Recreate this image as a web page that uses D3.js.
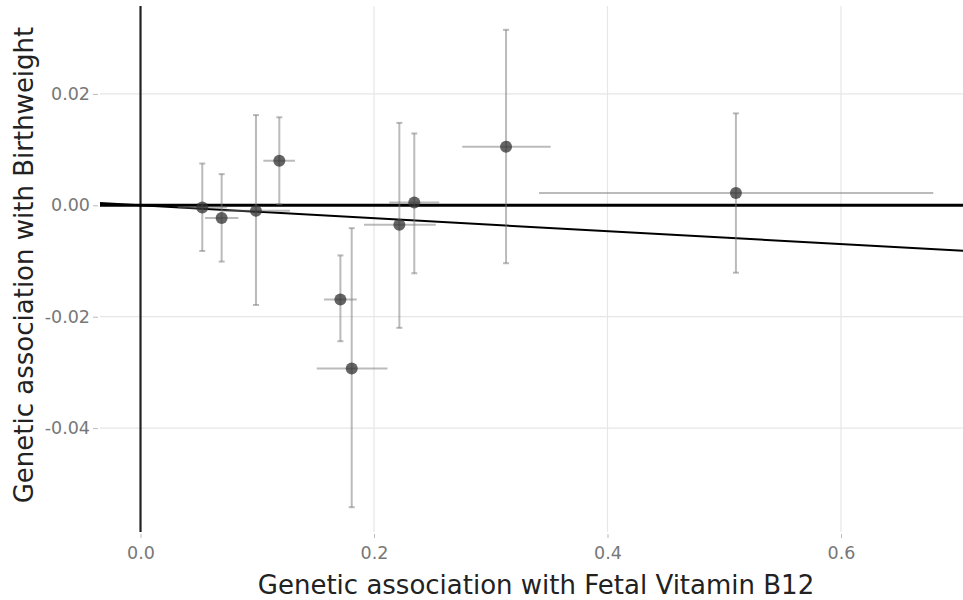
<!DOCTYPE html>
<html>
<head>
    <meta charset="utf-8">
    <title>MR scatter - fetal B12 vs birthweight</title>
    <script src="https://d3js.org/d3.v7.min.js"></script>
    <style>
        body { margin: 0; background: #fff; }
        text { font-family: 'DejaVu Sans', sans-serif; }
    </style>
</head>
<body>
    <svg id="chart">
        <g id="grid"></g>
        <g id="x"></g>
        <g id="y"></g>
        <g id="lines"></g>
        <g id="bars"></g>
        <g id="points"></g>
    </svg>

    <script>

        // SNP effects
        var snpX   = [0.0529, 0.0695, 0.0989, 0.1189, 0.1712, 0.1809, 0.2217, 0.2345, 0.3131, 0.510];
        var snpXLo = [0.032, 0.0553, 0.070, 0.1052, 0.1572, 0.151, 0.1914, 0.2131, 0.2756, 0.3413];
        var snpXHi = [0.074, 0.0838, 0.128, 0.1323, 0.1852, 0.2115, 0.2529, 0.2559, 0.3513, 0.679];
        var snpY   = [-0.0004, -0.0023, -0.0010, 0.0080, -0.0169, -0.0293, -0.0035, 0.0005, 0.0105, 0.0022];
        var snpYLo = [-0.0082, -0.0101, -0.0179, 0.0002, -0.0244, -0.0542, -0.0220, -0.0122, -0.0104, -0.0121];
        var snpYHi = [0.0075, 0.0056, 0.0162, 0.0158, -0.0090, -0.0041, 0.0148, 0.0129, 0.0315, 0.0165];

        var ivwSlope = -0.0116;

        var xTicks = [0, 0.2, 0.4, 0.6];
        var yTicks = [-0.04, -0.02, 0, 0.02];

        var width = 963;
        var height = 600;
        var margin = {top: 6, right: 0, bottom: 68, left: 100};

        var svg = d3.select("#chart")
                    .attr("width", width)
                    .attr("height", height);

        var x = d3.scaleLinear()
            .domain([-0.0347, 0.7045])
            .range([margin.left, width - margin.right]);

        var y = d3.scaleLinear()
            .domain([-0.05865, 0.03578])
            .range([height - margin.bottom, margin.top]);

        var data = snpX.map(function(d, i) {
            return {x: d, xlo: snpXLo[i], xhi: snpXHi[i], y: snpY[i], ylo: snpYLo[i], yhi: snpYHi[i]};
        });

        // grid
        var grid = svg.select("#grid");
        grid.selectAll(".vg").data(xTicks.filter(function(d) { return d !== 0; }))
            .enter().append("line")
            .attr("x1", function(d) { return x(d); })
            .attr("x2", function(d) { return x(d); })
            .attr("y1", y.range()[1])
            .attr("y2", y.range()[0])
            .attr("stroke", "#e6e6e6").attr("stroke-width", 1.2);
        grid.selectAll(".hg").data(yTicks)
            .enter().append("line")
            .attr("x1", x.range()[0])
            .attr("x2", x.range()[1])
            .attr("y1", function(d) { return y(d); })
            .attr("y2", function(d) { return y(d); })
            .attr("stroke", "#e6e6e6").attr("stroke-width", 1.2);

        // axes, plain hyphen for negatives
        function fmt(p) {
            var f = d3.format("." + p + "f");
            return function(d) { return f(d).replace("\u2212", "-"); };
        }
        var xAxis = d3.axisBottom(x).tickValues(xTicks).tickFormat(fmt(1)).tickSize(4).tickPadding(9);
        var yAxis = d3.axisLeft(y).tickValues(yTicks).tickFormat(fmt(2)).tickSize(5).tickPadding(3);

        var gx = svg.select("#x")
            .attr("transform", "translate(0," + (y.range()[0] + 2) + ")")
            .call(xAxis);
        var gy = svg.select("#y")
            .attr("transform", "translate(" + (x.range()[0] - 2) + ",0)")
            .call(yAxis);

        [gx, gy].forEach(function(g) {
            g.select(".domain").remove();
            g.selectAll(".tick line").attr("stroke", "#bbb");
            g.selectAll(".tick text").attr("fill", "#777")
                .style("font-family", "'DejaVu Sans', sans-serif")
                .style("font-size", "17.5px");
        });

        svg.append("text")
            .attr("x", (258 + 814) / 2)
            .attr("y", 594)
            .attr("text-anchor", "middle")
            .attr("fill", "#222")
            .style("font-size", "26px")
            .text("Genetic association with Fetal Vitamin B12");

        svg.append("text")
            .attr("transform", "translate(33," + 265 + ") rotate(-90)")
            .attr("text-anchor", "middle")
            .attr("fill", "#222")
            .style("font-size", "26px")
            .text("Genetic association with Birthweight");

        // reference lines + IVW fit
        var lines = svg.select("#lines");
        lines.append("line")
            .attr("x1", x(0)).attr("x2", x(0))
            .attr("y1", y.range()[1]).attr("y2", y.range()[0])
            .attr("stroke", "#222").attr("stroke-width", 2.2);
        lines.append("line")
            .attr("x1", x.range()[0]).attr("x2", x.range()[1])
            .attr("y1", y(0)).attr("y2", y(0))
            .attr("stroke", "#000").attr("stroke-width", 3);
        var xd = x.domain();
        lines.append("line")
            .attr("x1", x(xd[0])).attr("x2", x(xd[1]))
            .attr("y1", y(ivwSlope * xd[0])).attr("y2", y(ivwSlope * xd[1]))
            .attr("stroke", "#000").attr("stroke-width", 2);

        // error bars
        var bars = svg.select("#bars").selectAll(".eb").data(data).enter()
            .append("g").attr("class", "eb")
            .attr("stroke", "rgba(120,120,120,0.5)")
            .attr("stroke-width", 2);
        var cap = 3;
        bars.append("line")
            .attr("x1", function(d) { return x(d.x); })
            .attr("x2", function(d) { return x(d.x); })
            .attr("y1", function(d) { return y(d.ylo); })
            .attr("y2", function(d) { return y(d.yhi); });
        bars.append("line")
            .attr("x1", function(d) { return x(d.x) - cap; })
            .attr("x2", function(d) { return x(d.x) + cap; })
            .attr("y1", function(d) { return y(d.ylo); })
            .attr("y2", function(d) { return y(d.ylo); });
        bars.append("line")
            .attr("x1", function(d) { return x(d.x) - cap; })
            .attr("x2", function(d) { return x(d.x) + cap; })
            .attr("y1", function(d) { return y(d.yhi); })
            .attr("y2", function(d) { return y(d.yhi); });
        bars.append("line")
            .attr("x1", function(d) { return x(d.xlo); })
            .attr("x2", function(d) { return x(d.xhi); })
            .attr("y1", function(d) { return y(d.y); })
            .attr("y2", function(d) { return y(d.y); });

        // points
        svg.select("#points").selectAll("circle").data(data).enter()
            .append("circle")
            .attr("cx", function(d) { return x(d.x); })
            .attr("cy", function(d) { return y(d.y); })
            .attr("r", 6)
            .attr("fill", "rgba(50,50,50,0.75)");

    </script>
</body>
</html>
